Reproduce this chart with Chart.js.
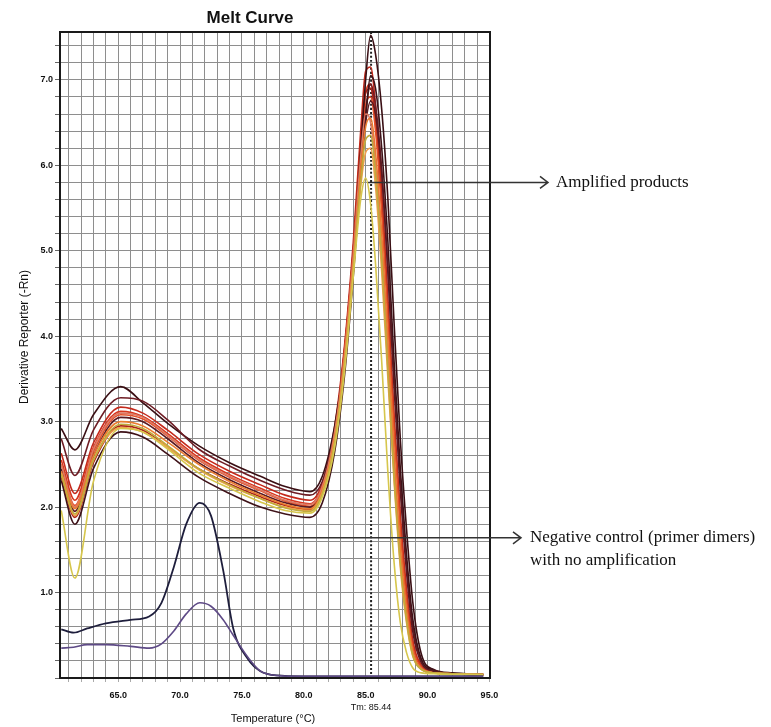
<!DOCTYPE html>
<html>
<head>
<meta charset="utf-8">
<title>Melt Curve</title>
<script src="https://cdn.jsdelivr.net/npm/chart.js@4.4.1/dist/chart.umd.min.js"></script>
<style>
  html, body { margin: 0; padding: 0; background: #fff; }
  canvas { display: block; }
</style>
</head>
<body>
<canvas id="meltChart" width="771" height="727"></canvas>
<script>
// melt curve – derivative reporter (-Rn) vs temperature

// ---- DATA ----
const temps = [60.4, 61.5, 63.0, 65.2, 67.0, 69.0, 71.5, 74.0, 76.5, 78.5, 80.5, 81.5, 82.5, 83.3,
               84.0, 84.6, 85.0, 85.4, 85.8, 86.3, 86.8, 87.3, 87.8, 88.3, 88.8, 89.5, 90.5, 92.0, 94.5];

// amplified product wells
const wellDark1   = [2.92, 2.67, 3.08, 3.41, 3.22, 2.98, 2.72, 2.52, 2.36, 2.24, 2.18, 2.36, 2.95, 3.75, 4.90, 6.15, 7.00, 7.52, 7.30, 6.65, 5.60, 4.15, 2.80, 1.75, 0.90, 0.28, 0.10, 0.06, 0.04];
const wellMaroon  = [2.80, 2.37, 2.90, 3.28, 3.24, 3.02, 2.68, 2.48, 2.31, 2.20, 2.14, 2.30, 2.88, 3.65, 4.75, 5.90, 6.60, 6.95, 6.70, 5.95, 4.80, 3.50, 2.30, 1.35, 0.62, 0.20, 0.09, 0.05, 0.04];
const wellDark2   = [2.45, 1.95, 2.60, 3.05, 3.00, 2.80, 2.52, 2.32, 2.16, 2.05, 2.00, 2.18, 2.80, 3.70, 4.80, 5.95, 6.50, 6.75, 6.60, 5.90, 4.75, 3.40, 2.20, 1.25, 0.55, 0.18, 0.08, 0.05, 0.04];
const wellDark3   = [2.31, 1.80, 2.45, 2.88, 2.82, 2.62, 2.35, 2.16, 2.00, 1.92, 1.88, 2.05, 2.65, 3.55, 4.70, 5.85, 6.55, 7.05, 6.90, 6.20, 5.10, 3.70, 2.45, 1.45, 0.70, 0.22, 0.09, 0.05, 0.04];
const wellYellow  = [1.96, 1.17, 2.30, 2.92, 2.88, 2.68, 2.40, 2.22, 2.06, 1.96, 1.93, 2.12, 2.70, 3.60, 4.70, 5.60, 5.85, 5.55, 4.85, 3.70, 2.40, 1.35, 0.65, 0.30, 0.12, 0.06, 0.05, 0.04, 0.04];
const wellKhaki   = [2.38, 1.92, 2.55, 2.97, 2.92, 2.72, 2.45, 2.26, 2.10, 1.99, 1.95, 2.15, 2.75, 3.65, 4.75, 5.80, 6.30, 6.35, 5.90, 4.90, 3.60, 2.35, 1.35, 0.68, 0.27, 0.10, 0.06, 0.05, 0.04];
const wellLtOrange= [2.40, 1.90, 2.55, 2.93, 2.88, 2.70, 2.44, 2.25, 2.10, 2.00, 1.96, 2.17, 2.78, 3.70, 4.80, 5.75, 6.15, 6.20, 5.75, 4.75, 3.50, 2.30, 1.30, 0.65, 0.26, 0.10, 0.06, 0.05, 0.04];
const wellOrange  = [2.42, 1.98, 2.60, 3.00, 2.95, 2.76, 2.50, 2.30, 2.14, 2.03, 1.98, 2.20, 2.82, 3.75, 4.85, 5.95, 6.45, 6.55, 6.15, 5.20, 3.95, 2.65, 1.55, 0.80, 0.32, 0.11, 0.06, 0.05, 0.04];
const wellSalmon  = [2.50, 2.00, 2.68, 3.10, 3.05, 2.84, 2.56, 2.36, 2.20, 2.08, 2.03, 2.24, 2.88, 3.80, 4.95, 6.10, 6.60, 6.50, 6.00, 5.00, 3.75, 2.50, 1.45, 0.75, 0.30, 0.11, 0.06, 0.05, 0.04];
const wellOrRed   = [2.50, 2.02, 2.65, 3.08, 3.03, 2.83, 2.55, 2.35, 2.19, 2.07, 2.01, 2.22, 2.85, 3.80, 4.95, 6.10, 6.70, 6.80, 6.40, 5.45, 4.20, 2.90, 1.75, 0.92, 0.38, 0.13, 0.07, 0.05, 0.04];
const wellRed3    = [2.35, 1.88, 2.52, 2.95, 2.90, 2.70, 2.45, 2.27, 2.12, 2.02, 1.97, 2.20, 2.85, 3.85, 5.00, 6.25, 6.85, 6.90, 6.50, 5.55, 4.30, 2.95, 1.80, 0.95, 0.40, 0.13, 0.07, 0.05, 0.04];
const wellRed2    = [2.55, 2.08, 2.70, 3.12, 3.06, 2.86, 2.58, 2.38, 2.22, 2.10, 2.04, 2.25, 2.90, 3.85, 5.00, 6.25, 6.85, 6.95, 6.55, 5.60, 4.35, 3.00, 1.85, 1.00, 0.42, 0.14, 0.07, 0.05, 0.04];
const wellRed1    = [2.63, 2.16, 2.75, 3.17, 3.10, 2.90, 2.62, 2.42, 2.26, 2.14, 2.08, 2.28, 2.95, 3.90, 5.10, 6.40, 7.10, 7.15, 6.70, 5.70, 4.40, 3.05, 1.90, 1.05, 0.45, 0.15, 0.07, 0.05, 0.04];

// negative control (primer dimers)
const negTemps  = [60.4, 61.4, 62.5, 64.0, 66.0, 67.5, 68.5, 69.5, 70.5, 71.6, 72.5, 73.5, 74.3, 75.5, 76.5, 77.8, 80.0, 85.0, 90.0, 94.5];
const negNavy   = [0.57, 0.53, 0.58, 0.64, 0.68, 0.72, 0.88, 1.30, 1.80, 2.05, 1.90, 1.25, 0.58, 0.22, 0.08, 0.03, 0.02, 0.02, 0.02, 0.02];
const negPurple = [0.35, 0.36, 0.39, 0.39, 0.37, 0.35, 0.40, 0.55, 0.75, 0.88, 0.84, 0.68, 0.50, 0.24, 0.08, 0.03, 0.02, 0.02, 0.02, 0.02];

const tmValue = 85.44;

// axis ranges / ticks
const xRange = [60.3, 95.05];
const yRange = [0, 7.56];
const xStep = 1;
const yStep = 0.2;

// ---- STYLE ----
const productWells  = [wellYellow, wellKhaki, wellLtOrange, wellOrange, wellSalmon, wellDark2, wellDark3, wellMaroon, wellDark1, wellOrRed, wellRed3, wellRed2, wellRed1];
const productColors = ['#d6c64c', '#c0ab3c', '#f0a04c', '#ea7c30', '#dc7a64', '#5a1a22', '#3e1218', '#6e1c24', '#3a0f14', '#e4502a', '#ac2418', '#d8361e', '#c42a1c'];

const FONT = '"Liberation Sans", Arial, sans-serif';
const SERIF = '"Liberation Serif", "Times New Roman", serif';

function toPoints(xs, ys) {
    return xs.map((t, i) => ({ x: t, y: ys[i] }));
}

const datasets = [];

// negative controls first (underneath)
datasets.push({
    data: toPoints(negTemps, negPurple),
    borderColor: '#5e4a86', borderWidth: 1.6
});
datasets.push({
    data: toPoints(negTemps, negNavy),
    borderColor: '#1e1e3c', borderWidth: 1.8
});

productWells.forEach((w, i) => {
    datasets.push({
        data: toPoints(temps, w),
        borderColor: productColors[i],
        borderWidth: 1.6
    });
});

// Tm marker (dotted vertical)
datasets.push({
    data: [{ x: tmValue, y: yRange[0] }, { x: tmValue, y: yRange[1] }],
    borderColor: '#222',
    borderWidth: 2,
    borderDash: [2, 2]
});

function drawArrow(ctx, x1, x2, y) {
    ctx.beginPath();
    ctx.moveTo(x1, y);
    ctx.lineTo(x2, y);
    ctx.moveTo(x2 - 8, y - 6);
    ctx.lineTo(x2, y);
    ctx.lineTo(x2 - 8, y + 6);
    ctx.stroke();
}

// ---- overlay: frame, titles, Tm label, annotations ----
const overlayPlugin = {
    id: 'overlay',
    afterDraw(chart) {
        const { ctx, chartArea: a, scales } = chart;
        const xs = scales.x, ys = scales.y;
        ctx.save();

        ctx.strokeStyle = '#1a1a1a';
        ctx.lineWidth = 2;
        ctx.strokeRect(a.left, a.top, a.right - a.left, a.bottom - a.top);

        ctx.fillStyle = '#111';
        ctx.textAlign = 'center';
        ctx.textBaseline = 'middle';
        ctx.font = 'bold 17px ' + FONT;
        ctx.fillText('Melt Curve', 250, 18);

        ctx.font = '11px ' + FONT;
        ctx.fillText('Temperature (°C)', 273, 719);

        ctx.font = '9px ' + FONT;
        ctx.fillText('Tm: ' + tmValue.toFixed(2), xs.getPixelForValue(tmValue), a.bottom + 30);

        ctx.save();
        ctx.translate(25, 337);
        ctx.rotate(-Math.PI / 2);
        ctx.font = '12px ' + FONT;
        ctx.fillText('Derivative Reporter (-Rn)', 0, 0);
        ctx.restore();

        // annotations
        ctx.strokeStyle = '#333';
        ctx.lineWidth = 1.5;
        const yAmp = ys.getPixelForValue(5.8);
        drawArrow(ctx, xs.getPixelForValue(85.2), 548, yAmp);
        const yNeg = ys.getPixelForValue(1.64);
        drawArrow(ctx, xs.getPixelForValue(73.0), 521, yNeg);

        ctx.fillStyle = '#111';
        ctx.textAlign = 'left';
        ctx.font = '17px ' + SERIF;
        ctx.fillText('Amplified products', 556, yAmp);
        ctx.fillText('Negative control (primer dimers)', 530, yNeg);
        ctx.fillText('with no amplification', 530, yNeg + 23);

        ctx.restore();
    }
};

new Chart(document.getElementById('meltChart').getContext('2d'), {
    type: 'line',
    data: { datasets: datasets },
    options: {
        responsive: false,
        animation: false,
        devicePixelRatio: 1,
        layout: { padding: { top: 32, right: 281, left: 0, bottom: 0 } },
        elements: {
            point: { radius: 0 },
            line: { cubicInterpolationMode: 'monotone', fill: false }
        },
        plugins: {
            legend: { display: false },
            tooltip: { enabled: false },
            title: { display: false }
        },
        scales: {
            x: {
                type: 'linear',
                min: xRange[0],
                max: xRange[1],
                afterFit: s => { s.height = 49; },
                grid: { color: '#8e8e8e', lineWidth: 1, tickLength: 4, tickColor: '#aaa' },
                border: { display: false },
                ticks: {
                    stepSize: xStep,
                    includeBounds: false,
                    autoSkip: false,
                    maxRotation: 0,
                    padding: 8,
                    color: '#111',
                    font: { family: FONT, size: 9, weight: 'bold' },
                    callback: v => (Math.abs(v / 5 - Math.round(v / 5)) < 1e-6 ? v.toFixed(1) : '')
                }
            },
            y: {
                type: 'linear',
                min: yRange[0],
                max: yRange[1],
                afterFit: s => { s.width = 60; },
                grid: { color: '#8e8e8e', lineWidth: 1, tickLength: 5, tickColor: '#666' },
                border: { display: false },
                ticks: {
                    stepSize: yStep,
                    includeBounds: false,
                    autoSkip: false,
                    padding: 2,
                    color: '#111',
                    font: { family: FONT, size: 9, weight: 'bold' },
                    callback: v => (v > 0.5 && Math.abs(v - Math.round(v)) < 1e-6 ? v.toFixed(1) : '')
                }
            }
        }
    },
    plugins: [overlayPlugin]
});
</script>
</body>
</html>
